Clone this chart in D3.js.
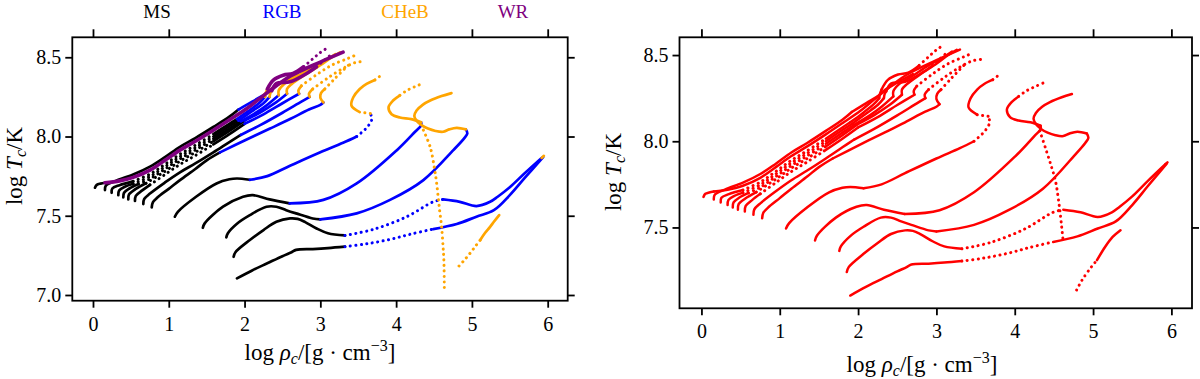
<!DOCTYPE html>
<html>
<head>
<meta charset="utf-8">
<title>Central temperature vs central density</title>
<style>
  body { margin: 0; background: #fff; }
  svg text { font-family: "Liberation Serif", "Times New Roman", Times, "DejaVu Serif", serif; }
</style>
</head>
<body>
<script src="https://cdn.jsdelivr.net/npm/d3@7"></script>
<script>

var xTicks = [0, 1, 2, 3, 4, 5, 6];
var yTicksLeft = [7.0, 7.5, 8.0, 8.5];
var yTicksRight = [7.5, 8.0, 8.5];
var phases = ["MS", "RGB", "CHeB", "WR"];

// each track is a list of segments: [phase, sparse sampling, [[log rho_c, log T_c], ...]]
var track1 = [
    ["MS", false, [[1.90,7.105],[2.1,7.155],[2.3,7.20],[2.5,7.245],[2.62,7.27],[2.68,7.285],[2.9,7.29],[3.1,7.296],[3.325,7.305]]],
    ["RGB", true, [[3.325,7.305],[3.6,7.322],[3.92,7.351],[4.2,7.385],[4.49,7.416]]],
    ["RGB", false, [[4.49,7.416],[4.8,7.448],[5.06,7.494],[5.29,7.535],[5.5,7.63],[5.7,7.74],[5.94,7.87]]]
];
var track2 = [
    ["MS", false, [[1.856,7.241],[1.88,7.27],[2.07,7.347],[2.25,7.41],[2.42,7.462],[2.6,7.483],[2.7,7.48],[2.8,7.46],[2.95,7.42],[3.1,7.39],[3.325,7.376]]],
    ["RGB", true, [[3.325,7.376],[3.70,7.414],[4.14,7.494],[4.49,7.588],[4.62,7.603]]],
    ["RGB", false, [[4.62,7.603],[4.84,7.588],[5.06,7.561],[5.24,7.588],[5.34,7.62],[5.5,7.68],[5.7,7.77],[5.92,7.865]]],
    ["CHeB", false, [[5.92,7.865],[5.95,7.878]]]
];
var track3 = [
    ["MS", false, [[1.76,7.364],[1.78,7.39],[1.9,7.45],[2.07,7.504],[2.29,7.557],[2.42,7.557],[2.55,7.535],[2.68,7.515],[2.9,7.483],[3.0,7.477]]],
    ["RGB", false, [[3.0,7.477],[3.48,7.515],[3.92,7.60],[4.36,7.725],[4.755,7.914],[4.9,7.99],[4.94,8.02],[4.92,8.045]]],
    ["CHeB", false, [[4.92,8.045],[4.80,8.055],[4.70,8.045],[4.62,8.03],[4.52,8.035],[4.42,8.05],[4.34,8.07],[4.27,8.10],[4.24,8.13],[4.27,8.164],[4.35,8.20],[4.45,8.227],[4.6,8.255],[4.73,8.274]]]
];
var track4 = [
    ["MS", false, [[1.45,7.424],[1.474,7.452],[1.716,7.557],[1.98,7.62],[2.11,7.63],[2.33,7.603],[2.595,7.578]]],
    ["RGB", false, [[2.595,7.578],[3.04,7.60],[3.48,7.704],[4.01,7.914],[4.25,8.03],[4.33,8.07],[4.33,8.09]]],
    ["CHeB", false, [[4.33,8.09],[4.2,8.11],[4.05,8.12],[3.94,8.14],[3.90,8.185],[3.96,8.227],[4.05,8.26]]],
    ["CHeB", true, [[4.05,8.26],[4.14,8.29],[4.25,8.315],[4.36,8.337]]]
];
var track5 = [
    ["MS", false, [[1.08,7.494],[1.12,7.525],[1.36,7.62],[1.63,7.704],[1.80,7.73],[1.9,7.735],[2.07,7.727]]],
    ["RGB", false, [[2.07,7.727],[2.3,7.75],[2.6,7.815],[3.0,7.90],[3.3,7.96],[3.48,8.0]]],
    ["RGB", true, [[3.48,8.0],[3.62,8.06],[3.68,8.11],[3.66,8.145]]],
    ["CHeB", true, [[3.66,8.145],[3.52,8.154]]],
    ["CHeB", false, [[3.52,8.154],[3.41,8.196],[3.435,8.248],[3.52,8.30],[3.61,8.332],[3.72,8.357]]],
    ["CHeB", true, [[3.72,8.357],[3.81,8.389]]]
];
var track6 = [
    ["MS", false, [[0.775,7.553],[0.79,7.585],[0.85,7.615],[1.0,7.67],[1.148,7.725],[1.35,7.795],[1.5,7.85],[1.676,7.90]]],
    ["RGB", false, [[1.676,7.90],[2.0,7.975],[2.336,8.05],[2.6,8.11],[2.85,8.17],[3.0,8.20],[3.04,8.215]]],
    ["CHeB", false, [[3.04,8.215],[3.0,8.245],[3.01,8.275],[3.06,8.30]]],
    ["CHeB", true, [[3.06,8.30],[3.2,8.37],[3.37,8.45]]]
];
var track7 = [
    ["MS", false, [[0.664,7.574],[0.675,7.605],[0.752,7.64],[0.95,7.71],[1.148,7.774],[1.35,7.83],[1.588,7.90],[1.8,7.965],[1.95,8.01]]],
    ["RGB", false, [[1.95,8.01],[2.2,8.07],[2.5,8.15],[2.75,8.22],[2.86,8.25]]],
    ["CHeB", false, [[2.86,8.25],[2.85,8.27],[2.9,8.30]]],
    ["CHeB", true, [[2.9,8.30],[3.1,8.37],[3.3,8.43],[3.45,8.465],[3.57,8.475]]]
];
var track8 = [
    ["MS", false, [[0.554,7.593],[0.565,7.625],[0.65,7.66],[0.752,7.695]]],
    ["MS", true, [[0.752,7.695],[0.95,7.76],[1.148,7.824],[1.35,7.88],[1.588,7.95]]],
    ["MS", false, [[1.588,7.95],[1.8,8.015],[2.0,8.08]]],
    ["RGB", false, [[2.0,8.08],[2.25,8.14],[2.5,8.21],[2.72,8.27]]],
    ["CHeB", false, [[2.72,8.27],[2.71,8.29],[2.75,8.32]]],
    ["CHeB", true, [[2.75,8.32],[2.95,8.39],[3.15,8.45],[3.35,8.49],[3.45,8.51]]]
];
var track9 = [
    ["MS", false, [[0.466,7.603],[0.475,7.635],[0.56,7.668],[0.7,7.705]]],
    ["MS", true, [[0.7,7.705],[0.95,7.78],[1.148,7.844],[1.35,7.90],[1.588,7.97]]],
    ["MS", false, [[1.588,7.97],[1.8,8.035],[2.0,8.10]]],
    ["RGB", false, [[2.0,8.10],[2.2,8.15],[2.4,8.21],[2.56,8.27]]],
    ["CHeB", false, [[2.56,8.27],[2.56,8.30],[2.62,8.33],[2.8,8.39],[3.0,8.45],[3.15,8.50],[3.26,8.53]]]
];
var track10 = [
    ["MS", false, [[0.40,7.616],[0.41,7.645],[0.48,7.672],[0.6,7.70]]],
    ["MS", true, [[0.6,7.70],[0.752,7.733],[0.95,7.795],[1.148,7.859],[1.35,7.915],[1.588,7.985]]],
    ["MS", false, [[1.588,7.985],[1.8,8.05],[1.95,8.095]]],
    ["RGB", false, [[1.95,8.095],[2.15,8.15],[2.3,8.2],[2.45,8.26]]],
    ["CHeB", false, [[2.45,8.26],[2.45,8.29],[2.52,8.33],[2.7,8.38],[2.9,8.44],[3.1,8.49],[3.2,8.52]]]
];
var track11 = [
    ["MS", false, [[0.334,7.63],[0.345,7.66],[0.42,7.683],[0.53,7.702]]],
    ["MS", true, [[0.53,7.702],[0.752,7.748],[0.95,7.81],[1.148,7.874],[1.35,7.93],[1.588,8.0]]],
    ["MS", false, [[1.588,8.0],[1.8,8.065],[1.92,8.10]]],
    ["RGB", false, [[1.92,8.10],[2.1,8.16],[2.25,8.21],[2.33,8.25]]],
    ["CHeB", false, [[2.33,8.25],[2.34,8.275],[2.36,8.29]]],
    ["WR", false, [[2.36,8.29],[2.42,8.335],[2.6,8.345],[2.82,8.398],[2.95,8.44]]],
    ["WR", true, [[2.95,8.44],[3.05,8.48],[3.15,8.52]]]
];
var track12 = [
    ["MS", false, [[0.246,7.645],[0.255,7.672],[0.35,7.693],[0.53,7.717]]],
    ["MS", true, [[0.53,7.717],[0.752,7.763],[0.95,7.825],[1.148,7.889],[1.35,7.945],[1.588,8.015]]],
    ["MS", false, [[1.588,8.015],[1.8,8.08],[1.9,8.11]]],
    ["RGB", false, [[1.9,8.11],[2.05,8.16],[2.2,8.215],[2.27,8.25]]],
    ["CHeB", false, [[2.27,8.25],[2.28,8.275],[2.3,8.30]]],
    ["WR", false, [[2.3,8.30],[2.38,8.356],[2.51,8.387],[2.64,8.398],[2.78,8.44]]],
    ["WR", true, [[2.78,8.44],[2.9,8.49],[3.0,8.53],[3.08,8.555]]]
];
var track13 = [
    ["MS", false, [[0.158,7.662],[0.17,7.69],[0.3,7.72],[0.53,7.76],[0.752,7.81],[0.95,7.87],[1.148,7.935],[1.35,7.99],[1.588,8.06],[1.8,8.125],[1.92,8.17]]],
    ["RGB", false, [[1.92,8.17],[2.1,8.22],[2.25,8.26]]],
    ["CHeB", false, [[2.25,8.26],[2.35,8.30],[2.5,8.34],[2.7,8.39]]]
];
var track14 = [
    ["MS", false, [[0.026,7.677],[0.05,7.695],[0.1,7.703],[0.158,7.708]]],
    ["WR", false, [[0.158,7.708],[0.35,7.72],[0.53,7.742],[0.752,7.788],[0.95,7.85],[1.148,7.914],[1.35,7.97],[1.588,8.04],[1.8,8.105],[2.03,8.177],[2.2,8.24],[2.336,8.29],[2.6,8.38],[3.0,8.47],[3.30,8.532]]]
];
var tracks = [track1, track2, track3, track4, track5, track6, track7,
              track8, track9, track10, track11, track12, track13, track14];

// core helium burning branches that differ between the two runs
var dropLeft = [[4.36,8.04],[4.45,7.933],[4.51,7.786],[4.535,7.704],[4.57,7.55],[4.60,7.43],[4.62,7.30],[4.63,7.22],[4.636,7.04]];
var tailLeftSparse = [[4.83,7.183],[4.9,7.22],[4.975,7.263],[5.05,7.31],[5.11,7.347]];
var tailLeftDense = [[5.11,7.347],[5.17,7.39],[5.24,7.43],[5.29,7.462],[5.36,7.504]];
var dropRight = [[4.32,8.06],[4.40,7.95],[4.47,7.85],[4.52,7.77],[4.57,7.62],[4.60,7.50],[4.616,7.43]];
var tailRightSparse = [[4.79,7.137],[4.86,7.195],[4.98,7.272],[5.05,7.31]];
var tailRightDense = [[5.05,7.31],[5.155,7.388],[5.25,7.445],[5.35,7.484]];

var phaseLabels = ["MS", "RGB", "CHeB", "WR"];
var phaseLabelX = [157, 282, 405, 513];

var width = 1200, height = 379;
var phaseColor = d3.scaleOrdinal().domain(phases).range(["black", "blue", "orange", "purple"]);

var svg = d3.select("body").append("svg")
    .attr("width", width)
    .attr("height", height)
    .style("background", "#fff");

function drawPanel(p) {
    var x = d3.scaleLinear().domain(p.xDomain).range(p.xRange);
    var y = d3.scaleLinear().domain(p.yDomain).range(p.yRange);
    var g = svg.append("g");

    var line = d3.line()
        .x(function(d) { return x(d[0]); })
        .y(function(d) { return y(d[1]); })
        .curve(d3.curveCatmullRom.alpha(0.5));

    var segs = [];
    tracks.forEach(function(t) {
        t.forEach(function(s) { segs.push({phase: s[0], sparse: s[1], pts: s[2]}); });
    });
    p.extra.forEach(function(s) { segs.push({phase: s[0], sparse: s[1], pts: s[2]}); });

    // later phases are plotted on top
    phases.forEach(function(ph) {
        segs.filter(function(s) { return s.phase === ph; }).forEach(function(s) {
            var w = s.sparse ? 3 : (ph === "WR" && !p.color ? 3.6 : p.lineWidth);
            g.append("path")
                .attr("d", line(s.pts))
                .attr("fill", "none")
                .attr("stroke", p.color || phaseColor(ph))
                .attr("stroke-width", w)
                .attr("stroke-linecap", "round")
                .attr("stroke-linejoin", "round")
                .attr("stroke-dasharray", s.sparse ? "0.1 5.4" : null);
        });
    });

    var xb = g.append("g")
        .attr("transform", "translate(0," + p.yRange[0] + ")")
        .call(d3.axisBottom(x).tickValues(xTicks).tickSize(7).tickPadding(9).tickFormat(d3.format("d")));
    var xt = g.append("g")
        .attr("transform", "translate(0," + p.yRange[1] + ")")
        .call(d3.axisTop(x).tickValues(xTicks).tickSize(8).tickFormat(""));
    var yl = g.append("g")
        .attr("transform", "translate(" + p.xRange[0] + ",0)")
        .call(d3.axisLeft(y).tickValues(p.yTicks).tickSize(7).tickPadding(4).tickFormat(d3.format(".1f")));
    var yr = g.append("g")
        .attr("transform", "translate(" + p.xRange[1] + ",0)")
        .call(d3.axisRight(y).tickValues(p.yTicks).tickSize(7).tickFormat(""));

    [xb, xt, yl, yr].forEach(function(a) {
        a.select(".domain").remove();
        a.attr("font-family", null).attr("font-size", 20);
        a.selectAll("line").attr("stroke", "black").attr("stroke-width", 1.8);
        a.selectAll("text").attr("fill", "black");
    });

    g.append("rect")
        .attr("x", p.xRange[0])
        .attr("y", p.yRange[1])
        .attr("width", p.xRange[1] - p.xRange[0])
        .attr("height", p.yRange[0] - p.yRange[1])
        .attr("fill", "none")
        .attr("stroke", "black")
        .attr("stroke-width", 1.8);

    // x label
    var t = svg.append("text")
        .attr("x", p.xLabel[0]).attr("y", p.xLabel[1])
        .attr("text-anchor", "middle")
        .attr("font-size", 23);
    t.append("tspan").text("log ");
    t.append("tspan").attr("font-style", "italic").text("ρ");
    t.append("tspan").attr("font-style", "italic").attr("font-size", 16).attr("dy", 4).text("c");
    t.append("tspan").attr("dy", -4).text("/[g · cm");
    t.append("tspan").attr("font-size", 16).attr("dy", -9).text("−3");
    t.append("tspan").attr("dy", 9).text("]");

    // y label
    var u = svg.append("text")
        .attr("transform", "translate(" + p.yLabel[0] + "," + p.yLabel[1] + ") rotate(-90)")
        .attr("text-anchor", "middle")
        .attr("font-size", 23);
    u.append("tspan").text("log ");
    u.append("tspan").attr("font-style", "italic").text("T");
    u.append("tspan").attr("font-style", "italic").attr("font-size", 16).attr("dy", 4).text("c");
    u.append("tspan").attr("dy", -4).text("/K");
}

drawPanel({
    xDomain: [-0.273, 6.264], xRange: [72.3, 567.7],
    yDomain: [6.964, 8.626], yRange: [300.7, 37.3],
    yTicks: yTicksLeft,
    lineWidth: 2.7,
    color: null,
    extra: [["CHeB", true, dropLeft], ["CHeB", true, tailLeftSparse], ["CHeB", false, tailLeftDense]],
    xLabel: [320, 360],
    yLabel: [22, 166]
});

drawPanel({
    xDomain: [-0.28, 6.263], xRange: [679.5, 1192],
    yDomain: [7.031, 8.603], yRange: [308.3, 37.3],
    yTicks: yTicksRight,
    lineWidth: 2.5,
    color: "red",
    extra: [["CHeB", true, dropRight], ["CHeB", true, tailRightSparse], ["CHeB", false, tailRightDense]],
    xLabel: [922, 372],
    yLabel: [621, 172]
});

// phase key above the left panel
svg.selectAll("text.phase")
    .data(phaseLabels)
    .enter().append("text")
    .attr("class", "phase")
    .attr("x", function(d, i) { return phaseLabelX[i]; })
    .attr("y", 18)
    .attr("text-anchor", "middle")
    .attr("font-size", 19)
    .attr("fill", function(d) { return phaseColor(d); })
    .text(function(d) { return d; });

</script>
</body>
</html>
